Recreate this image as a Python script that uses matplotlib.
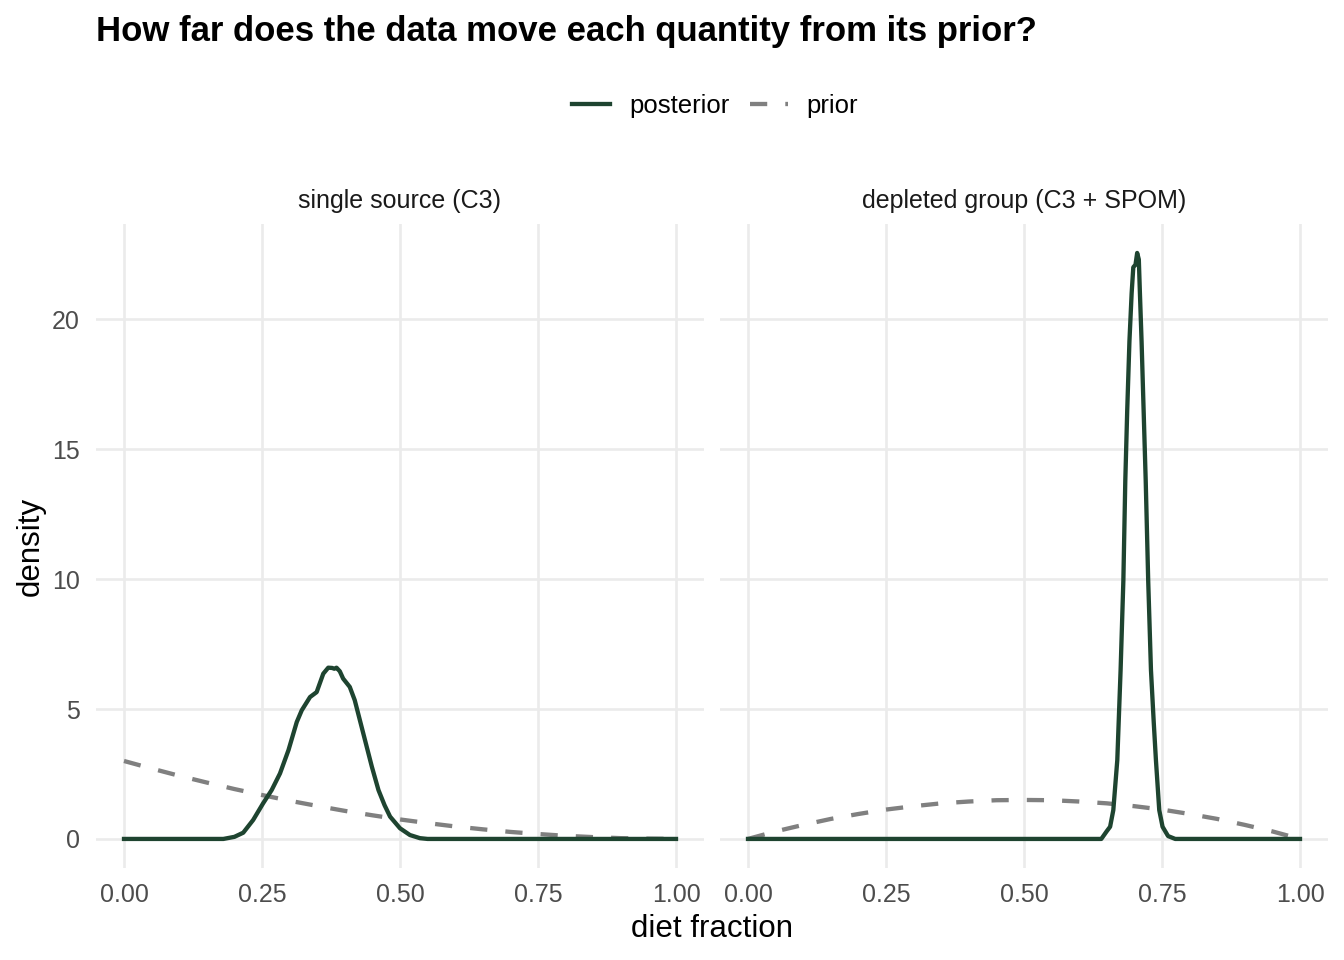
import matplotlib
matplotlib.use('Agg')
import matplotlib.pyplot as plt
from matplotlib.lines import Line2D

plt.rcParams['font.family'] = ['Liberation Sans', 'DejaVu Sans']

# values
panels = ['single source (C3)', 'depleted group (C3 + SPOM)']

post_c3_x = [0.00, 0.18, 0.20, 0.216, 0.234, 0.252, 0.2675, 0.2826, 0.298, 0.313, 0.322,
             0.337, 0.349, 0.361, 0.370, 0.377, 0.381, 0.385, 0.391, 0.397, 0.409,
             0.418, 0.4335, 0.449, 0.461, 0.472, 0.482, 0.500, 0.518, 0.536, 0.55, 1.00]
post_c3_y = [0.0, 0.0, 0.08, 0.24, 0.73, 1.37, 1.88, 2.52, 3.42, 4.50, 4.95,
             5.46, 5.65, 6.36, 6.59, 6.58, 6.55, 6.59, 6.45, 6.17, 5.85,
             5.34, 4.06, 2.78, 1.88, 1.3, 0.86, 0.41, 0.15, 0.03, 0.0, 0.0]

post_grp_x = [0.00, 0.640, 0.6437, 0.650, 0.656, 0.6618, 0.669, 0.675, 0.680, 0.6835,
              0.687, 0.691, 0.695, 0.698, 0.702, 0.705, 0.708, 0.710, 0.713, 0.7205,
              0.725, 0.730, 0.735, 0.739, 0.745, 0.751, 0.761, 0.774, 1.00]
post_grp_y = [0.0, 0.0, 0.11, 0.3, 0.47, 1.11, 3.03, 6.5, 9.94, 13.78,
              16.5, 19.15, 21.0, 22.0, 22.1, 22.55, 22.3, 21.0, 19.15, 13.78,
              9.94, 6.5, 4.5, 3.03, 1.11, 0.47, 0.11, 0.0, 0.0]

prior_x = [0.00, 0.05, 0.10, 0.15, 0.20, 0.25, 0.30, 0.35, 0.40, 0.45, 0.50,
           0.55, 0.60, 0.65, 0.70, 0.75, 0.80, 0.85, 0.90, 0.95, 1.00]
prior_c3_y = [3.00, 2.71, 2.43, 2.17, 1.92, 1.69, 1.47, 1.27, 1.08, 0.91, 0.75,
              0.61, 0.48, 0.37, 0.27, 0.19, 0.12, 0.07, 0.03, 0.01, 0.00]
prior_grp_y = [0.00, 0.29, 0.54, 0.77, 0.96, 1.13, 1.26, 1.37, 1.44, 1.49, 1.50,
               1.49, 1.44, 1.37, 1.26, 1.13, 0.96, 0.77, 0.54, 0.29, 0.00]

x_ticks = [0.0, 0.25, 0.5, 0.75, 1.0]
x_labels = ['0.00', '0.25', '0.50', '0.75', '1.00']
y_ticks = [0, 5, 10, 15, 20]

POST_COL = '#1E4430'
PRIOR_COL = '#808080'
GRID_COL = '#EBEBEB'
LW = 3.1
DASH = (4, 4.2)

fig = plt.figure(figsize=(13.44, 9.6), dpi=100)
W, H = 1344, 960
bottom = 1 - 868.3 / H
height = (868.3 - 223.6) / H
lefts = [96.4 / W, 720.4 / W]
width = 607.2 / W

data = [(post_c3_x, post_c3_y, prior_c3_y), (post_grp_x, post_grp_y, prior_grp_y)]

for i, (px, py, pr) in enumerate(data):
    ax = fig.add_axes([lefts[i], bottom, width, height])
    ax.plot(prior_x, pr, color=PRIOR_COL, lw=LW, dashes=DASH, zorder=3)
    ax.plot(px, py, color=POST_COL, lw=LW, zorder=4, solid_joinstyle='round')
    ax.set_xlim(-0.05, 1.05)
    ax.set_ylim(-1.13, 23.68)
    ax.set_xticks(x_ticks)
    ax.set_xticklabels(x_labels)
    ax.set_yticks(y_ticks)
    ax.grid(True, color=GRID_COL, lw=1.9)
    ax.set_axisbelow(True)
    for s in ax.spines.values():
        s.set_visible(False)
    ax.tick_params(length=0, labelsize=18, colors='#4D4D4D')
    ax.tick_params(axis='x', pad=10.5)
    ax.tick_params(axis='y', pad=12)
    if i == 1:
        ax.tick_params(labelleft=False)
    ax.set_title(panels[i], fontsize=18, color='#1A1A1A', pad=11)

fig.text(712 / W, 1 - 929 / H, 'diet fraction', ha='center', va='center', fontsize=22.5)
fig.text(31 / W, 1 - 546 / H, 'density', ha='center', va='center', fontsize=22.5, rotation=90)
fig.text(96 / W, 1 - 31 / H, 'How far does the data move each quantity from its prior?',
         ha='left', va='center', fontsize=25, fontweight='bold')

handles = [Line2D([], [], color=POST_COL, lw=LW),
           Line2D([], [], color=PRIOR_COL, lw=LW, dashes=DASH)]
fig.legend(handles, ['posterior', 'prior'], loc='center', ncol=2,
           bbox_to_anchor=(715 / W, 1 - 106 / H), frameon=False, fontsize=18.5,
           handlelength=1.48, handletextpad=0.72, columnspacing=0.8)

fig.savefig('out.png', dpi=100)
